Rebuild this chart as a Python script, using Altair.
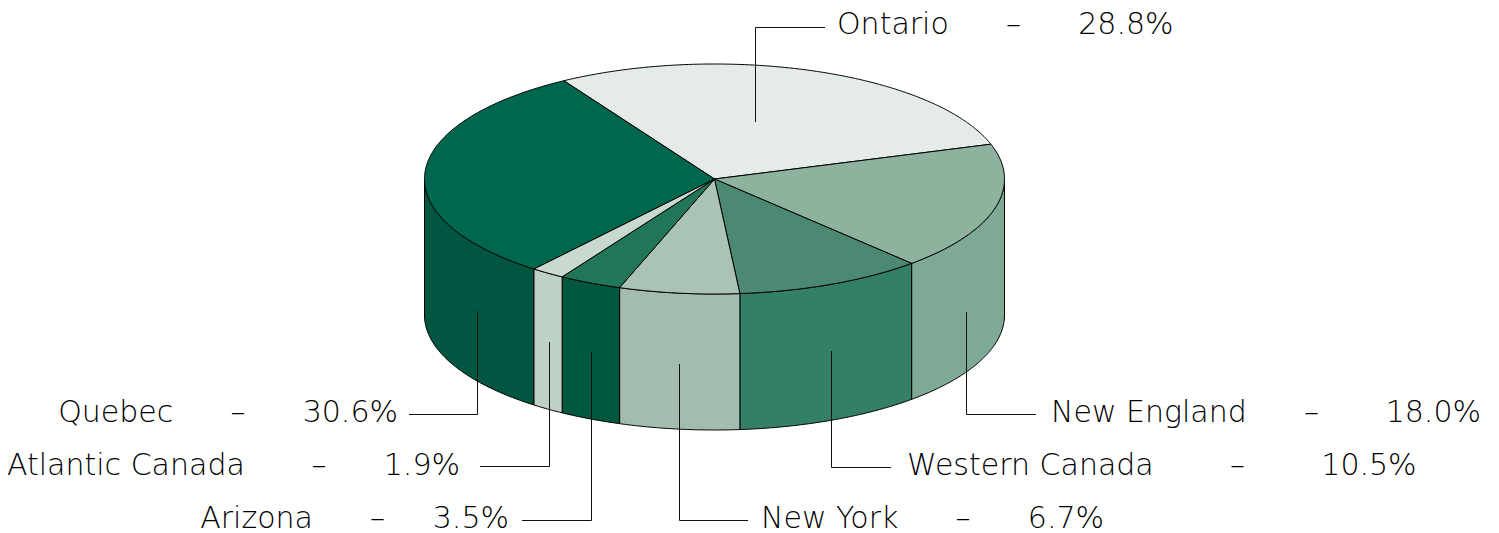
import math
import altair as alt

# ---- values ----
regions = ["Ontario", "New England", "Western Canada", "New York", "Arizona", "Atlantic Canada", "Quebec"]
shares = [28.8, 18.0, 10.5, 6.7, 3.5, 1.9, 30.6]
top_colors = ["#E5EBE7", "#8DB29E", "#4B8972", "#ABC3B5", "#217559", "#C9D9CF", "#00674F"]
side_colors = ["#E5EBE7", "#7EA994", "#337F67", "#A2BDAE", "#00583F", "#BFD2C7", "#005640"]

# ---- layout ----
CX, CY, RX, RY, DEPTH = 714.5, 179, 290, 115, 136
START = 121.3
OX, OY = 8, 8
FS = 30
anchor_x = [837, 1051, 907, 761, 509, 460, 398]
baseline = [34, 422, 475, 528, 528, 475, 422]
align = ["left", "left", "left", "left", "right", "right", "right"]
gaps_before = [6, 6, 8, 6, 6, 7, 6]
gaps_after = [6, 7, 8, 6, 5, 6, 6]
leader_x = [755, 966, 831, 679, 591, 549, 477]
leader_start = [122, 312, 351, 364, 352, 342, 311]
leader_y = [27, 414, 467, 520, 520, 466, 414]
leader_end = [825, 1036, 891, 748, 522, 480, 409]


def pt(deg, dy=0):
    r = math.radians(deg)
    return [CX + RX * math.cos(r) - OX, CY - RY * math.sin(r) + dy - OY]


def arc(a, b, dy=0):
    n = max(2, int(abs(a - b)) * 2)
    return [pt(a + (b - a) * i / n, dy) for i in range(n + 1)]


def poly(ring, color):
    return {
        "type": "Feature",
        "properties": {"color": color},
        "geometry": {"type": "Polygon", "coordinates": [ring + [ring[0]]]},
    }


centre = [CX - OX, CY - OY]
tops, sides = [], []
a = START
for share, tc, sc in zip(shares, top_colors, side_colors):
    b = a - share * 3.6
    tops.append(poly([centre] + arc(a, b), tc))
    # the visible wall is the part of the slice between -180 and 0 degrees
    lo, hi = max(b, -180), min(a, 0)
    if lo < hi:
        sides.append(poly(arc(hi, lo) + arc(lo, hi, DEPTH), sc))
    a = b

leaders = []
for x, y0, y1, x1 in zip(leader_x, leader_start, leader_y, leader_end):
    lx, ly = x - OX + 0.5, y1 - OY + 0.5
    leaders.append({
        "type": "Feature",
        "properties": {},
        "geometry": {"type": "LineString",
                     "coordinates": [[lx, y0 - OY], [lx, ly], [x1 - OX, ly]]},
    })

labels = []
for name, share, x, y, al, g0, g1 in zip(regions, shares, anchor_x, baseline, align, gaps_before, gaps_after):
    labels.append({"text": f"{name}{chr(160) * g0}–{chr(160) * g1}{share:.1f}%", "lon": x - OX, "lat": y - OY, "al": al})

proj = dict(type="identity", scale=1, translate=[0, 0])


def shapes(features):
    return alt.Chart(alt.Data(values=features)).mark_geoshape(
        stroke="#000000", strokeWidth=1, strokeJoin="round"
    ).encode(fill=alt.Color("properties.color:N", scale=None)).project(**proj)


def text_layer(al):
    rows = [r for r in labels if r["al"] == al]
    return alt.Chart(alt.Data(values=rows)).mark_text(
        font="DejaVu Sans", fontSize=FS, fontWeight=200, align=al, baseline="alphabetic", color="#000000"
    ).encode(longitude="lon:Q", latitude="lat:Q", text="text:N").project(**proj)


line_layer = alt.Chart(alt.Data(values=leaders)).mark_geoshape(
    filled=False, stroke="#111111", strokeWidth=1
).project(**proj)

chart = alt.layer(
    shapes(sides), shapes(tops), line_layer, text_layer("left"), text_layer("right")
).properties(
    width=1483, height=521, padding=0,
    autosize=alt.AutoSizeParams(type="none"),
).configure_view(stroke=None)

chart.save("out.html", embed_options={"renderer": "svg", "actions": False})
